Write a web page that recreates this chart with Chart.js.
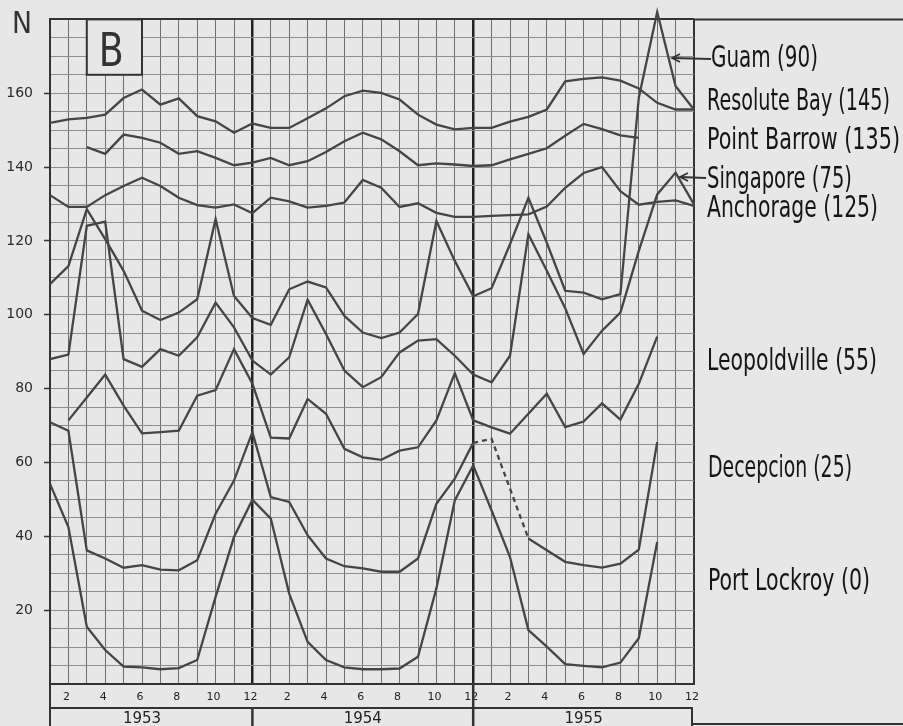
<!DOCTYPE html>
<html>
<head>
<meta charset="utf-8">
<script src="https://cdn.jsdelivr.net/npm/chart.js@4/dist/chart.umd.min.js"></script>
<style>
  html, body { margin: 0; padding: 0; background: #e7e7e7; overflow: hidden; }
  canvas { display: block; }
</style>
</head>
<body>
<canvas id="chart" width="903" height="726"></canvas>
<script>
// months Jan 1953 .. Dec 1955
const months = [1, 2, 3, 4, 5, 6, 7, 8, 9, 10, 11, 12,
                13, 14, 15, 16, 17, 18, 19, 20, 21, 22, 23, 24,
                25, 26, 27, 28, 29, 30, 31, 32, 33, 34, 35, 36];
const monthLabels = ["", "2", "", "4", "", "6", "", "8", "", "10", "", "12",
                     "", "2", "", "4", "", "6", "", "8", "", "10", "", "12",
                     "", "2", "", "4", "", "6", "", "8", "", "10", "", "12"];
const yearLabels = ["1953", "1954", "1955"];
const yearCenters = [6, 18, 30];
const yTickLabels = [20, 40, 60, 80, 100, 120, 140, 160];

// series names and their shift (the number in brackets)
const stationNames = ["Guam", "Resolute Bay", "Point Barrow", "Singapore",
                      "Anchorage", "Leopoldville", "Decepcion", "Port Lockroy"];
const stationShifts = [90, 145, 135, 75, 125, 55, 25, 0];

// values as plotted (shift already included)
const resoluteBay = [152.0, 152.9, 153.3, 154.2, 158.7, 161.0, 156.9, 158.6, 153.8, 152.4, 149.3, 151.8,
                     150.6, 150.6, 153.2, 155.9, 159.2, 160.7, 160.1, 158.3, 154.2, 151.5, 150.2, 150.6,
                     150.6, 152.3, 153.6, 155.6, 163.2, 163.9, 164.3, 163.4, 161.3, 157.4, 155.6, 155.6];
const pointBarrow = [null, null, 145.4, 143.6, 148.8, 147.9, 146.6, 143.6, 144.3, 142.5, 140.5, 141.2,
                     142.5, 140.5, 141.6, 144.1, 147.0, 149.3, 147.5, 144.3, 140.5, 141.0, 140.7, 140.3,
                     140.5, 142.1, 143.6, 145.1, 148.5, 151.7, 150.3, 148.6, 147.9, null, null, null];
const anchorage = [132.4, 129.2, 129.2, 132.4, 134.9, 137.1, 134.9, 131.7, 129.7, 129.0, 129.9, 127.5,
                   131.7, 130.7, 129.0, 129.5, 130.4, 136.5, 134.4, 129.2, 130.2, 127.6, 126.5, 126.5,
                   126.8, 127.0, 127.2, 129.3, 134.4, 138.4, 140.0, 133.5, 129.8, 130.6, 131.0, 129.5];
const guam = [108.3, 113.2, 128.6, 120.5, 111.9, 101.1, 98.6, 100.6, 104.2, 125.9, 105.1, 99.1,
              97.3, 106.9, 109.0, 107.4, 99.7, 95.2, 93.7, 95.2, 100.2, 125.4, 114.6, 105.0,
              107.2, 119.1, 131.7, 119.5, 106.5, 106.0, 104.2, 105.6, 158.8, 182.0, 161.9, 155.6];
const singapore = [88.0, 89.2, 124.1, 125.2, 88.0, 85.9, 90.7, 88.9, 93.9, 103.3, 96.6, 87.6,
                   83.8, 88.5, 104.1, 94.8, 84.9, 80.4, 83.1, 89.8, 93.0, 93.4, 88.9, 83.8,
                   81.7, 88.9, 121.8, 111.9, 101.8, 89.4, 95.7, 100.6, 117.3, 132.6, 138.5, 129.9];
const leopoldville = [null, 71.4, 77.6, 83.8, 75.4, 67.9, 68.2, 68.6, 78.1, 79.6, 90.7, 81.3,
                      66.7, 66.5, 77.2, 73.2, 63.7, 61.4, 60.7, 63.2, 64.1, 71.4, 84.2, 71.4,
                      69.5, 67.8, 73.2, 78.6, 69.6, 71.1, 76.0, 71.6, 81.3, 94.1, null, null];
const decepcion = [70.9, 68.6, 36.2, 34.0, 31.5, 32.2, 31.0, 30.8, 33.5, 46.1, 55.1, 68.2,
                   50.6, 49.3, 40.3, 34.0, 31.9, 31.3, 30.4, 30.4, 34.0, 48.8, 55.6, 65.3,
                   66.4, null, 39.4, 36.2, 33.1, 32.2, 31.5, 32.6, 36.4, 65.5, null, null];
const portLockroy = [54.2, 42.5, 15.5, 9.2, 4.7, 4.5, 4.0, 4.3, 6.5, 23.6, 39.8, 49.9,
                     44.8, 24.5, 11.4, 6.5, 4.5, 4.0, 4.0, 4.2, 7.4, 25.9, 49.7, 59.2,
                     47.0, 34.4, 14.6, 10.1, 5.4, 4.9, 4.5, 5.8, 12.4, 38.5, null, null];

const seriesValues = [guam, resoluteBay, pointBarrow, singapore, anchorage, leopoldville, decepcion, portLockroy];

const PAPER = "#e7e7e7";
const INK = "#454545";
const LABEL_FONT = '"Liberation Sans Narrow", "DejaVu Sans Condensed", "Liberation Sans", sans-serif';

// text squeezed to a given width (hand lettering is tall and narrow)
function narrowText(c, text, x, y, width, font) {
  c.font = font;
  const w = c.measureText(text).width;
  c.save();
  c.translate(x, y);
  c.scale(width / w, 1);
  c.fillText(text, 0, 0);
  c.restore();
}

function arrow(c, x1, y1, x2, y2) {
  c.beginPath();
  c.moveTo(x2, y2);
  c.lineTo(x1, y1);
  c.stroke();
  c.beginPath();
  c.moveTo(x1 + 8, y1 - 4);
  c.lineTo(x1, y1);
  c.lineTo(x1 + 8, y1 + 4);
  c.stroke();
}

const datasets = stationNames.map((name, k) => ({
  label: name + " (" + stationShifts[k] + ")",
  data: months.map((m, i) => ({ x: m, y: seriesValues[k][i] })),
  xAxisID: "x",
  yAxisID: "y",
  borderColor: INK,
  borderWidth: 2.3,
  pointRadius: 0,
  tension: 0,
  clip: false,
  spanGaps: name === "Decepcion",
  // Decepcion is dashed from Dec 1954 to Mar 1955
  segment: name === "Decepcion" ? {
    borderDash: ctx => (ctx.p0DataIndex >= 23 && ctx.p1DataIndex <= 26) ? [5, 4] : undefined
  } : undefined
}));

// paper, "N", box with "B"
const paperPlugin = {
  id: "paper",
  beforeDraw(chart) {
    const c = chart.ctx;
    c.save();
    c.fillStyle = PAPER;
    c.fillRect(0, 0, chart.width, chart.height);
    c.restore();
  },
  beforeDatasetsDraw(chart) {
    const c = chart.ctx;
    const { x, y } = chart.scales;
    const l = x.getPixelForValue(3), r = x.getPixelForValue(6);
    const t = y.getPixelForValue(180), b = y.getPixelForValue(165);
    c.save();
    c.fillStyle = PAPER;
    c.fillRect(l, t, r - l, b - t);
    c.strokeStyle = "#333";
    c.lineWidth = 2;
    c.strokeRect(l, t, r - l, b - t);
    c.fillStyle = "#333";
    c.textBaseline = "alphabetic";
    narrowText(c, "B", l + 12, 66, 25, '46px "DejaVu Sans", sans-serif');
    c.restore();
  }
};

const notesPlugin = {
  id: "notes",
  afterDraw(chart) {
    const c = chart.ctx;
    const { x } = chart.scales;
    const area = chart.chartArea;
    c.save();

    // axis letter
    c.fillStyle = "#333";
    c.textBaseline = "alphabetic";
    narrowText(c, "N", 12, 33, 20, '31px "DejaVu Sans", sans-serif');

    // station names on the right
    const spots = [
      [711, 67, 107], [707, 110, 183], [707, 149, 193], [707, 188, 145],
      [707, 217, 171], [707, 370, 170], [708, 477, 144], [708, 590, 162]
    ];
    c.fillStyle = "#151515";
    datasets.forEach((ds, k) => {
      const s = spots[k];
      narrowText(c, ds.label, s[0], s[1], s[2], "31px " + LABEL_FONT);
    });

    // arrows for Guam and Singapore
    c.strokeStyle = "#333";
    c.lineWidth = 1.8;
    arrow(c, 672, 58, 711, 59);
    arrow(c, 680, 177, 706, 178);

    // month / year bands under the grid
    c.strokeStyle = "#333";
    c.lineWidth = 2;
    c.beginPath();
    c.moveTo(area.left, 708); c.lineTo(area.right - 1, 708);
    c.moveTo(area.left, area.bottom); c.lineTo(area.left, 726);
    c.moveTo(area.right - 2, 708); c.lineTo(area.right - 2, 726);
    c.moveTo(area.right, area.top); c.lineTo(903, area.top);
    c.moveTo(area.right - 2, 724); c.lineTo(903, 724);
    c.stroke();
    c.lineWidth = 2.5;
    c.beginPath();
    c.moveTo(x.getPixelForValue(12), 708); c.lineTo(x.getPixelForValue(12), 726);
    c.moveTo(x.getPixelForValue(24), area.bottom); c.lineTo(x.getPixelForValue(24), 726);
    c.stroke();
    c.restore();
  }
};

new Chart(document.getElementById("chart"), {
  type: "line",
  data: { datasets: datasets },
  options: {
    responsive: false,
    animation: false,
    events: [],
    layout: { padding: { top: 17, right: 209, left: 0, bottom: 0 } },
    plugins: { legend: { display: false }, tooltip: { enabled: false } },
    scales: {
      x: {
        type: "linear",
        position: "bottom",
        min: 1,
        max: 36,
        weight: 0,
        afterFit(s) { s.height = 24; },
        ticks: {
          stepSize: 1,
          autoSkip: false,
          maxRotation: 0,
          padding: 7,
          labelOffset: -2,
          color: "#222",
          font: { family: "DejaVu Sans", size: 11 },
          callback: v => monthLabels[v - 1]
        },
        grid: {
          drawTicks: false,
          color: ctx => {
            const v = ctx.tick && ctx.tick.value;
            if (v === 12 || v === 24) return "#222";
            if (v === 36) return "#333";
            return "#6e6e6e";
          },
          lineWidth: ctx => {
            const v = ctx.tick && ctx.tick.value;
            if (v === 12 || v === 24) return 2.5;
            if (v === 36) return 2;
            return 1;
          }
        },
        border: { color: "#333", width: 2 }
      },
      xYear: {
        type: "linear",
        position: "bottom",
        min: 1,
        max: 36,
        weight: 1,
        afterBuildTicks(s) { s.ticks = yearCenters.map(v => ({ value: v })); },
        afterFit(s) { s.height = 18; },
        ticks: {
          autoSkip: false,
          maxRotation: 0,
          padding: 2,
          color: "#222",
          font: { family: "DejaVu Sans", size: 15 },
          callback: (v, i) => yearLabels[i]
        },
        grid: { display: false, drawTicks: false },
        border: { display: false }
      },
      y: {
        type: "linear",
        min: 0,
        max: 180,
        afterFit(s) { s.width = 50; },
        ticks: {
          stepSize: 5,
          autoSkip: false,
          padding: 11,
          color: "#2b2b2b",
          font: { family: "DejaVu Sans", size: 14 },
          callback: v => yTickLabels.includes(v) ? String(v) : ""
        },
        grid: {
          tickLength: 6,
          tickWidth: 1.5,
          tickColor: ctx => yTickLabels.includes(ctx.tick.value) ? "#333" : "rgba(0,0,0,0)",
          color: ctx => (ctx.tick && ctx.tick.value === 180) ? "#333" : "#8e8e8e",
          lineWidth: ctx => (ctx.tick && ctx.tick.value === 180) ? 2 : 1
        },
        border: { color: "#333", width: 2 }
      }
    }
  },
  plugins: [paperPlugin, notesPlugin]
});
</script>
</body>
</html>
